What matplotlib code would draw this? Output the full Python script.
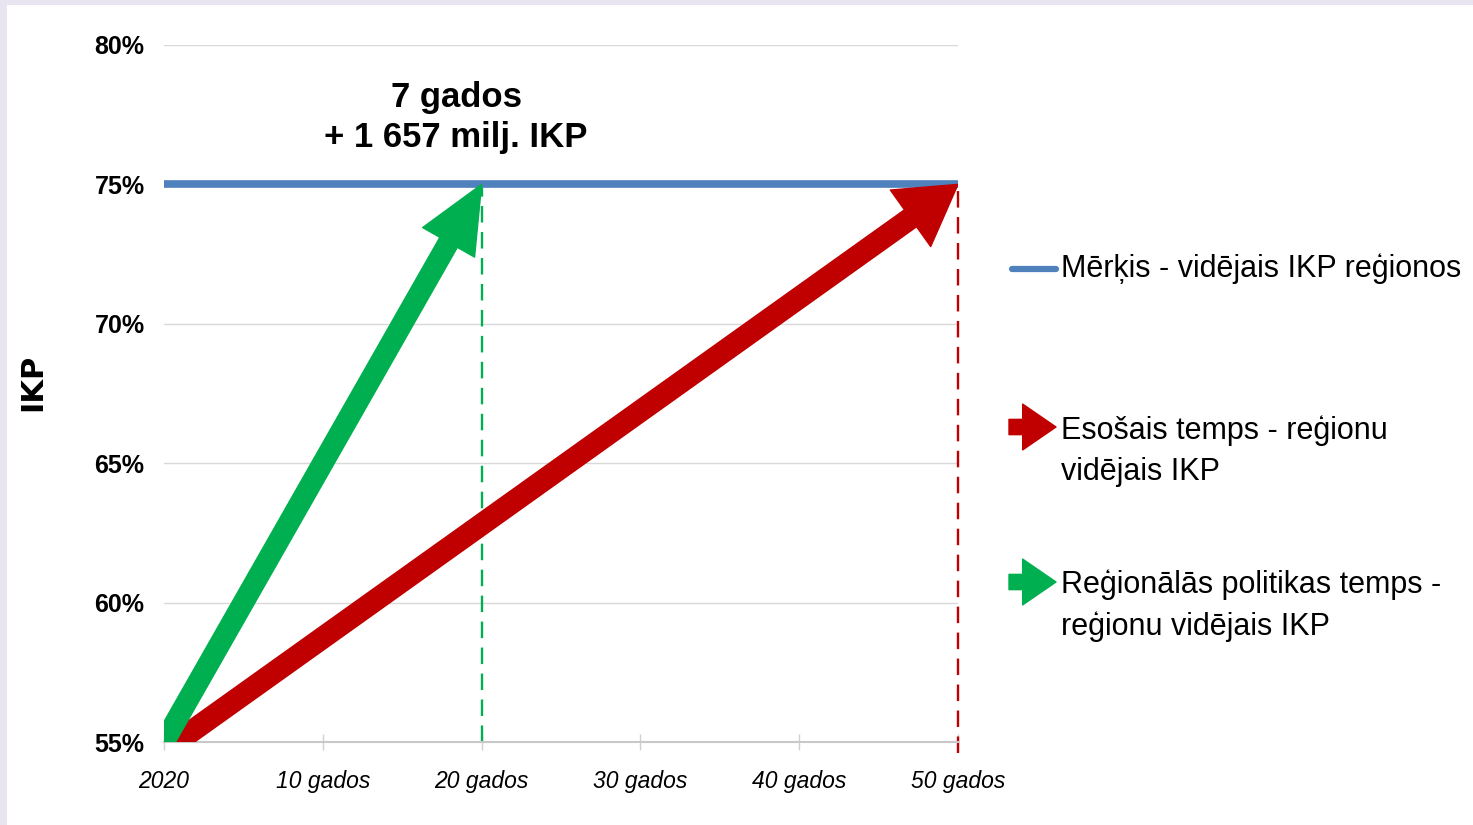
import matplotlib.pyplot as plt
from matplotlib.patches import FancyArrowPatch, Rectangle
from matplotlib.lines import Line2D

# data
years = [0, 10, 20, 30, 40, 50]
year_labels = ['2020', '10 gados', '20 gados', '30 gados', '40 gados', '50 gados']
pct_ticks = [55, 60, 65, 70, 75, 80]

target = 75
start_level = 55
current_pace = [(0.8, 55), (50, 75)]     # Esošais temps
policy_pace = [(0, 55), (20, 75)]        # Reģionālās politikas temps

note_text = '7 gados\n+ 1 657 milj. IKP'
legend_labels = ['Mērķis - vidējais IKP reģionos',
                 'Esošais temps - reģionu\nvidējais IKP',
                 'Reģionālās politikas temps -\nreģionu vidējais IKP']

blue = '#4f81bd'
red = '#c00000'
green = '#00b050'

plt.rcParams['font.family'] = ['Liberation Sans', 'DejaVu Sans']

fig = plt.figure(figsize=(14.73, 8.25), dpi=100, facecolor='#e8e5f0')
fig.patches.append(Rectangle((7 / 1473, 0), 1, 1 - 5 / 825, transform=fig.transFigure,
                             facecolor='white', edgecolor='none', zorder=-10))

ax = fig.add_axes([164 / 1473, 1 - 742 / 825, 794 / 1473, 697 / 825])
ax.set_facecolor('none')
ax.set_xlim(0, 50)
ax.set_ylim(55, 80)

for s in ['top', 'right', 'left']:
    ax.spines[s].set_visible(False)
ax.spines['bottom'].set_color('#c8c8c8')
ax.spines['bottom'].set_linewidth(1.5)

ax.set_yticks(pct_ticks)
ax.set_yticklabels([f'{p}%' for p in pct_ticks], fontsize=18, fontweight='bold')
ax.tick_params(axis='y', length=0, pad=14)
ax.set_xticks(years)
ax.set_xticklabels(year_labels, fontsize=16.5, style='italic')
ax.tick_params(axis='x', direction='inout', length=12, color='#d0d0d0', width=1, pad=14)
ax.grid(axis='y', color='#d9d9d9', linewidth=1)
ax.set_axisbelow(True)

ax.set_ylabel('IKP', fontsize=22, fontweight='bold', family='DejaVu Sans')
ax.yaxis.set_label_coords(-0.147, 0.516)

# target line
ax.plot([years[0], years[-1]], [target, target], color=blue, linewidth=5.5, zorder=3,
        solid_capstyle='butt')

# dashed drop lines
ax.plot([policy_pace[1][0]] * 2, [start_level, target], color=green, linewidth=1.7,
        linestyle=(0, (7, 4)), zorder=2)
ax.plot([current_pace[1][0]] * 2, [54.6, target], color=red, linewidth=1.7,
        linestyle=(0, (7, 4)), zorder=2, clip_on=False)

# arrows
red_arrow = FancyArrowPatch(current_pace[0], current_pace[1],
                            arrowstyle='simple,head_length=42,head_width=50,tail_width=15',
                            mutation_scale=1, shrinkA=0, shrinkB=0,
                            color=red, zorder=4)
ax.add_patch(red_arrow)
green_arrow = FancyArrowPatch(policy_pace[0], policy_pace[1],
                              arrowstyle='simple,head_length=48,head_width=43,tail_width=14.5',
                              mutation_scale=1, shrinkA=0, shrinkB=0,
                              color=green, zorder=4)
ax.add_patch(green_arrow)

ax.text(18.4, 77.4, note_text, ha='center', va='center', fontsize=25,
        fontweight='bold', linespacing=1.3)

# legend drawn by hand on the right
fx = lambda px: px / 1473
fy = lambda py: 1 - py / 825
fig.add_artist(Line2D([fx(1012), fx(1056)], [fy(269), fy(269)], color=blue,
                      linewidth=4.5, solid_capstyle='round', transform=fig.transFigure))
for py, col in [(427, red), (582, green)]:
    fig.add_artist(FancyArrowPatch((fx(1009), fy(py)), (fx(1056), fy(py)),
                                   transform=fig.transFigure,
                                   arrowstyle='simple,head_length=24,head_width=33,tail_width=11',
                                   mutation_scale=1, shrinkA=0, shrinkB=0, color=col))
fig.text(fx(1061), fy(269), legend_labels[0], fontsize=22, va='center', ha='left')
fig.text(fx(1061), fy(451), legend_labels[1], fontsize=22, va='center', ha='left',
         linespacing=1.5)
fig.text(fx(1061), fy(606), legend_labels[2], fontsize=22, va='center', ha='left',
         linespacing=1.5)

fig.savefig('out.png', dpi=100, facecolor=fig.get_facecolor())
